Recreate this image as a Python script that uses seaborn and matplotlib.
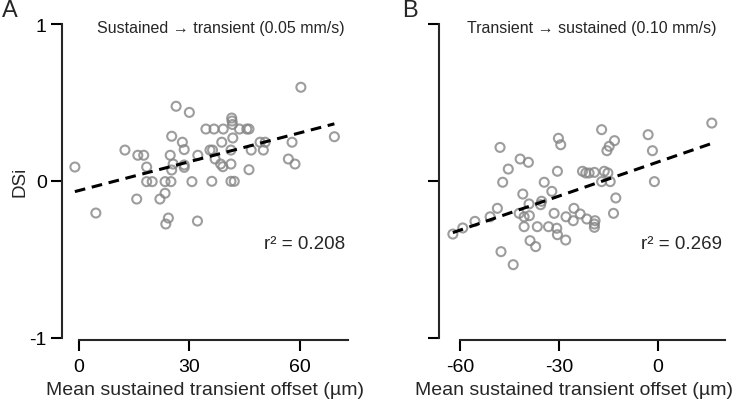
import matplotlib
matplotlib.use("Agg")
import matplotlib.pyplot as plt
import seaborn as sns
import pandas as pd

# Panel A: sustained -> transient (0.05 mm/s)
offset_a = [-1.1, 4.6, 12.5, 16.0, 17.6, 18.4, 18.4, 19.9, 15.7, 22.0, 23.4, 24.3, 23.6, 24.8,
            25.2, 25.6, 25.2, 23.4, 25.0, 26.4, 30.0, 28.1, 28.6, 28.6, 28.6, 30.7, 32.3, 32.2,
            34.5, 36.7, 39.2, 43.6, 45.6, 46.2, 41.5, 41.6, 41.8, 38.8, 49.2, 50.6, 57.9, 69.4,
            60.3, 35.6, 36.3, 41.3, 46.8, 50.1, 37.0, 38.5, 39.1, 41.3, 46.2, 56.9, 58.7, 36.1,
            41.3, 42.2, 41.7]
dsi_a = [0.089, -0.204, 0.197, 0.164, 0.164, 0.089, -0.004, -0.004, -0.115, -0.115, -0.078,
         -0.236, -0.274, 0.164, 0.285, 0.108, 0.070, -0.004, -0.004, 0.476, 0.437, 0.247, 0.200,
         0.102, 0.087, -0.004, 0.164, -0.255, 0.331, 0.331, 0.331, 0.331, 0.331, 0.331, 0.401,
         0.382, 0.274, 0.247, 0.247, 0.247, 0.247, 0.282, 0.597, 0.197, 0.197, 0.197, 0.197,
         0.197, 0.140, 0.108, 0.091, 0.108, 0.072, 0.140, 0.108, -0.002, -0.002, -0.002, 0.36]

# Panel B: transient -> sustained (0.10 mm/s)
offset_b = [-30.2, -29.5, -47.9, -41.8, -39.3, -45.4, -30.5, -47.1, -34.5, -41.0, -32.2, -39.1,
            -35.3, -35.6, -48.7, -50.9, -55.5, -59.2, -62.2, -42.1, -40.6, -39.0, -31.5, -25.5,
            -27.9, -40.6, -36.6, -33.2, -30.7, -30.5, -28.0, -25.7, -38.8, -37.1, -47.6, -43.9,
            16.3, -17.1, -3.0, -13.2, -14.8, -15.5, -1.7, -22.9, -21.9, -20.9, -19.3, -16.3,
            -15.2, -17.1, -14.5, -1.1, -12.8, -13.5, -23.6, -21.6, -19.1, -19.3, -19.3]
dsi_b = [0.272, 0.231, 0.214, 0.140, 0.119, 0.076, 0.062, -0.008, -0.008, -0.083, -0.066,
         -0.146, -0.129, -0.151, -0.174, -0.228, -0.257, -0.299, -0.338, -0.206, -0.228, -0.221,
         -0.206, -0.174, -0.228, -0.291, -0.291, -0.291, -0.301, -0.342, -0.376, -0.253, -0.380,
         -0.418, -0.450, -0.533, 0.369, 0.327, 0.295, 0.257, 0.221, 0.193, 0.193, 0.062, 0.051,
         0.051, 0.055, 0.062, 0.051, -0.004, -0.004, -0.004, -0.108, -0.206, -0.210, -0.242,
         -0.253, -0.274, -0.295]

titles = ["Sustained \u2192 transient (0.05 mm/s)", "Transient \u2192 sustained (0.10 mm/s)"]
r2_labels = ["r\u00b2 = 0.208", "r\u00b2 = 0.269"]
panel_letters = ["A", "B"]
x_ticks = [[0, 30, 60], [-60, -30, 0]]
x_limits = [(-4.6, 73.1), (-66.4, 20.3)]
x_bounds = [(0, 73.1), (-60, 20.3)]

sns.set_style("ticks")
plt.rcParams["font.family"] = ["Liberation Sans", "DejaVu Sans"]
plt.rcParams["axes.unicode_minus"] = False

fig = plt.figure(figsize=(7.35, 4.02), dpi=100)
ax_a = fig.add_axes([62 / 735, 63 / 402, 286 / 735, 314 / 402])
ax_b = fig.add_axes([439 / 735, 63 / 402, 286 / 735, 314 / 402])

dfs = [pd.DataFrame({"offset": offset_a, "dsi": dsi_a}),
       pd.DataFrame({"offset": offset_b, "dsi": dsi_b})]

# title centres and x-label centres, in axes fractions
title_x = [0.555, 0.534]
label_x = [0.5, 0.472]

for i, (ax, df) in enumerate(zip([ax_a, ax_b], dfs)):
    sns.regplot(data=df, x="offset", y="dsi", ax=ax, ci=None,
                scatter_kws=dict(s=42, facecolors="none", edgecolors="#858585",
                                 linewidths=1.5, zorder=2),
                line_kws=dict(color="black", lw=2.2, ls=(0, (3.5, 2.2)), zorder=3))
    ax.set_xlim(*x_limits[i])
    ax.set_ylim(-1, 1)
    ax.set_xticks(x_ticks[i])
    ax.set_yticks([-1, 0, 1])
    if i == 0:
        ax.set_yticklabels(["-1", "0", "1"])
        ax.set_ylabel("DSi", fontsize=13.5)
        ax.yaxis.set_label_coords(-0.118, 0.5)
    else:
        ax.set_yticklabels([])
        ax.set_ylabel("")
    ax.set_xlabel("Mean sustained transient offset (\u00b5m)", fontsize=14)
    ax.xaxis.set_label_coords(label_x[i], -0.138)
    sns.despine(ax=ax)
    ax.spines["left"].set_bounds(-1, 1)
    ax.spines["bottom"].set_bounds(*x_bounds[i])
    ax.spines["bottom"].set_position(("outward", 1.5))
    for s in ["left", "bottom"]:
        ax.spines[s].set_linewidth(1.5)
    ax.tick_params(direction="out", length=8, width=1.5, labelsize=14, colors="black")
    ax.tick_params(axis="x", pad=5)
    ax.tick_params(axis="y", pad=3)
    ax.text(title_x[i], 0.99, titles[i], transform=ax.transAxes, ha="center", va="center",
            fontsize=11.5)
    ax.text(0.99, 0.3, r2_labels[i], transform=ax.transAxes, ha="right", va="center",
            fontsize=13.5)

fig.text(2 / 735, 1 - 11 / 402, panel_letters[0], fontsize=17, va="center", ha="left")
fig.text(402 / 735, 1 - 11 / 402, panel_letters[1], fontsize=17, va="center", ha="left")

fig.savefig("out.png", dpi=100)
